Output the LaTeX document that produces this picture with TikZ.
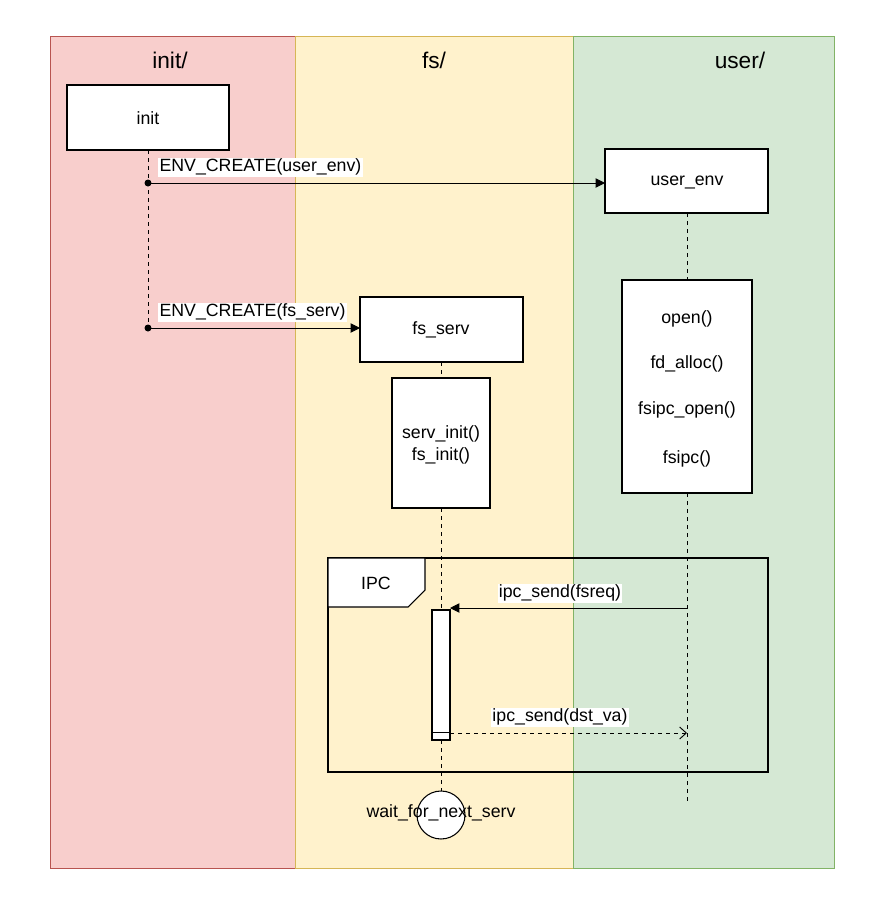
\documentclass[tikz,border=0pt]{standalone}
\usepackage{fontspec}
\setmainfont{Liberation Sans}
\usetikzlibrary{arrows.meta}
\definecolor{rf}{HTML}{F8CECC}\definecolor{rs}{HTML}{B85450}
\definecolor{yf}{HTML}{FFF2CC}\definecolor{ys}{HTML}{D6B656}
\definecolor{gf}{HTML}{D5E8D4}\definecolor{gs}{HTML}{82B366}
\begin{document}
\begin{tikzpicture}[x=0.75pt,y=-0.75pt,
 box/.style={draw,fill=white,line width=0.8pt},
 life/.style={dashed,line width=0.7pt},
 lbl/.style={font=\fontsize{13.3}{16}\selectfont,inner sep=1pt},
 elbl/.style={lbl,fill=white},
 hdr/.style={font=\fontsize{17}{20}\selectfont}]
\useasboundingbox (0,0) rectangle (884,908);
\fill[white] (0,0) rectangle (884,908);
\draw[rs,fill=rf] (50,36) rectangle (295,868);
\draw[ys,fill=yf] (295,36) rectangle (573,868);
\draw[gs,fill=gf] (573,36) rectangle (834,868);
\node[hdr] (h1) at (170,60) {init/};
\node[hdr] (h2) at (434,60) {fs/};
\node[hdr] (h3) at (740,60) {user/};
% init
\draw[box] (67,85) rectangle (229,150);
\node[lbl] (init) at (148,118) {init};
\draw[life] (148,150) -- (148,328);
\fill (148,183) circle (3.5);
\fill (148,328) circle (3.5);
\coordinate (d1) at (148,183); \coordinate (d2) at (148,328);
% user_env
\draw[box] (605,149) rectangle (768,213);
\node[lbl] (ue) at (687,182) {user\_env};
\draw[life] (687,213) -- (687,280);
\draw[box] (622,280) rectangle (752,493);
\node[lbl] at (687,319) {open()};
\node[lbl] at (687,364) {fd\_alloc()};
\node[lbl] at (687,410) {fsipc\_open()};
\node[lbl] at (687,459) {fsipc()};
\draw[life] (687,493) -- (687,803);
\draw[-{Triangle[length=7pt,width=7pt]},line width=0.7pt] (d1) -- (605,183);
\node[elbl,anchor=south west] at (158,177) {ENV\_CREATE(user\_env)};
% fs_serv
\draw[box] (360,297) rectangle (523,362);
\node[lbl] (fs) at (441,330) {fs\_serv};
\draw[-{Triangle[length=7pt,width=7pt]},line width=0.7pt] (d2) -- (360,328);
\node[elbl,anchor=south west] at (158,322) {ENV\_CREATE(fs\_serv)};
\draw[life] (441,362) -- (441,378);
\draw[box] (392,378) rectangle (490,508);
\node[lbl,align=center] at (441,445) {serv\_init()\\fs\_init()};
\draw[life] (441,508) -- (441,610);
% IPC frame
\draw[line width=0.8pt] (328,558) rectangle (768,772);
\draw[line width=0.8pt,fill=white] (328,558) -- (425,558) -- (425,590) -- (408,607) -- (328,607) -- cycle;
\node[lbl] at (376,583) {IPC};
\draw[box] (432,610) rectangle (450,740);
\draw[line width=0.7pt] (432,732) -- (450,732);
\draw[-{Triangle[length=7pt,width=7pt]},line width=0.7pt] (687,608) -- (450,608);
\node[elbl,anchor=south] at (560,603) {ipc\_send(fsreq)};
\draw[dashed,-{Straight Barb[length=5pt,width=9pt]},line width=0.7pt] (450,733) -- (687,733);
\node[elbl,anchor=south] at (560,727) {ipc\_send(dst\_va)};
\draw[life] (441,740) -- (441,791);
\draw[box] (441,815) circle (24);
\node[lbl] (w) at (441,813) {wait\_for\_next\_serv};
\end{tikzpicture}
\end{document}
